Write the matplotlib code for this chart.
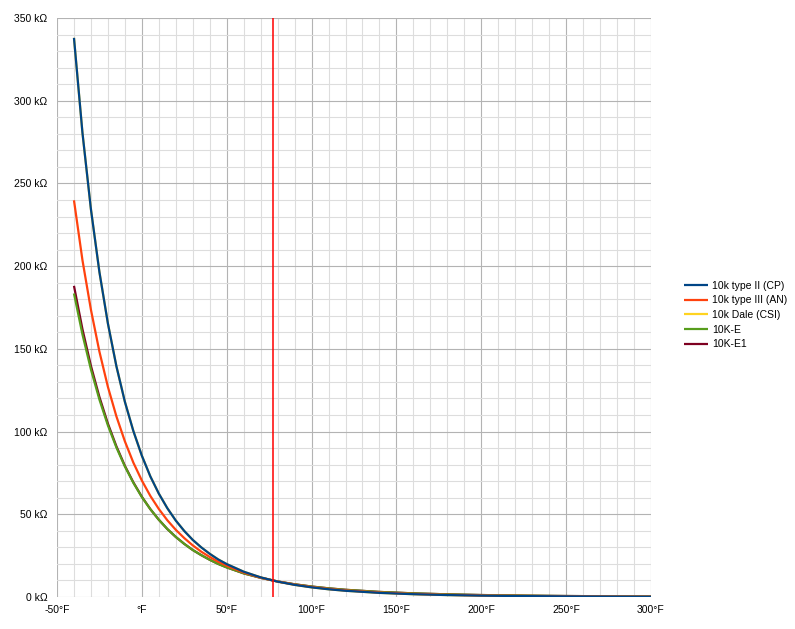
import matplotlib
matplotlib.use("Agg")
import matplotlib.pyplot as plt
from matplotlib.ticker import MultipleLocator, FuncFormatter

plt.rcParams['font.family'] = ['Liberation Sans', 'DejaVu Sans']

# temperature (°F) and resistance (kΩ)
temp_f = [-40, -35, -30, -25, -20, -15, -10, -5, 0, 5, 10, 15, 20, 25, 30, 35, 40, 45, 50,
          60, 70, 80, 90, 100, 110, 120, 140, 160, 180, 200, 225, 250, 275, 300]

type2_cp = [338.0, 280.6, 234.3, 196.4, 165.3, 139.5, 118.0, 100.3, 85.4, 72.9, 62.5, 53.7, 46.2,
            39.9, 34.5, 30.0, 26.1, 22.7, 19.9, 15.3, 11.88, 9.30, 7.34, 5.83, 4.67, 3.76,
            2.49, 1.69, 1.17, 0.83, 0.55, 0.37, 0.26, 0.19]
type3_an = [239.8, 203.6, 173.6, 148.3, 127.0, 109.2, 94.1, 81.2, 70.4, 61.1, 53.2, 46.4, 40.6,
            35.6, 31.2, 27.4, 24.2, 21.3, 18.9, 14.8, 11.7, 9.35, 7.50, 6.05, 4.91, 4.01,
            2.71, 1.87, 1.32, 0.94, 0.63, 0.44, 0.31, 0.22]
dale_csi = [338.0, 280.6, 234.3, 196.4, 165.3, 139.5, 118.0, 100.3, 85.4, 72.9, 62.5, 53.7, 46.2,
            39.9, 34.5, 30.0, 26.1, 22.7, 19.9, 15.3, 11.88, 9.30, 7.34, 5.83, 4.67, 3.76,
            2.49, 1.69, 1.17, 0.83, 0.55, 0.37, 0.26, 0.19]
k10_e = [183.5, 158.7, 137.5, 119.3, 103.7, 90.4, 78.9, 69.0, 60.4, 53.1, 46.7, 41.1, 36.3,
         32.1, 28.4, 25.3, 22.5, 20.0, 17.9, 14.3, 11.6, 9.40, 7.69, 6.33, 5.24, 4.36,
         3.07, 2.20, 1.61, 1.19, 0.84, 0.60, 0.44, 0.33]
k10_e1 = [188.1, 161.9, 139.7, 120.9, 104.8, 91.1, 79.3, 69.3, 60.6, 53.1, 46.7, 41.1, 36.3,
          32.1, 28.4, 25.3, 22.5, 20.0, 17.9, 14.3, 11.6, 9.40, 7.69, 6.33, 5.24, 4.36,
          3.07, 2.20, 1.61, 1.19, 0.84, 0.60, 0.44, 0.33]

series = [
    ("10k type II (CP)", type2_cp, "#004586"),
    ("10k type III (AN)", type3_an, "#ff420e"),
    ("10k Dale (CSI)", dale_csi, "#ffd320"),
    ("10K-E", k10_e, "#579d1c"),
    ("10K-E1", k10_e1, "#7e0021"),
]
ref_temp = 77

fig = plt.figure(figsize=(7.95, 6.29), dpi=100)
ax = fig.add_axes([57 / 795, 1 - 597 / 629, 594 / 795, 579 / 629])

# first legend entry drawn on top
for i, (name, vals, col) in enumerate(series):
    ax.plot(temp_f, vals, color=col, lw=1.6, label=name, zorder=10 - i,
            solid_capstyle='butt')

ax.axvline(ref_temp, color='#ff0000', lw=1.1, zorder=12)

ax.set_xlim(-50, 300)
ax.set_ylim(0, 350)
ax.xaxis.set_major_locator(MultipleLocator(50))
ax.xaxis.set_minor_locator(MultipleLocator(10))
ax.yaxis.set_major_locator(MultipleLocator(50))
ax.yaxis.set_minor_locator(MultipleLocator(10))
ax.grid(which='major', color='#b3b3b3', lw=0.8, zorder=0)
ax.grid(which='minor', color='#dddddd', lw=0.8, zorder=0)
ax.set_axisbelow(True)
for s in ax.spines.values():
    s.set_visible(False)
ax.tick_params(which='both', length=0, labelsize=7.5, colors='black')
ax.tick_params(axis='y', pad=7)
ax.tick_params(axis='x', pad=6)
ax.xaxis.set_major_formatter(FuncFormatter(lambda v, p: "°F" if v == 0 else f"{v:.0f}°F"))
ax.yaxis.set_major_formatter(FuncFormatter(lambda v, p: f"{v:.0f} kΩ"))

ax.legend(loc='center left', bbox_to_anchor=(680 / 795, 1 - 315 / 629),
          bbox_transform=fig.transFigure, frameon=False, fontsize=7.5,
          handlelength=2.3, handletextpad=0.35, labelspacing=0.45, borderaxespad=0)

fig.savefig("out.png", dpi=100)
